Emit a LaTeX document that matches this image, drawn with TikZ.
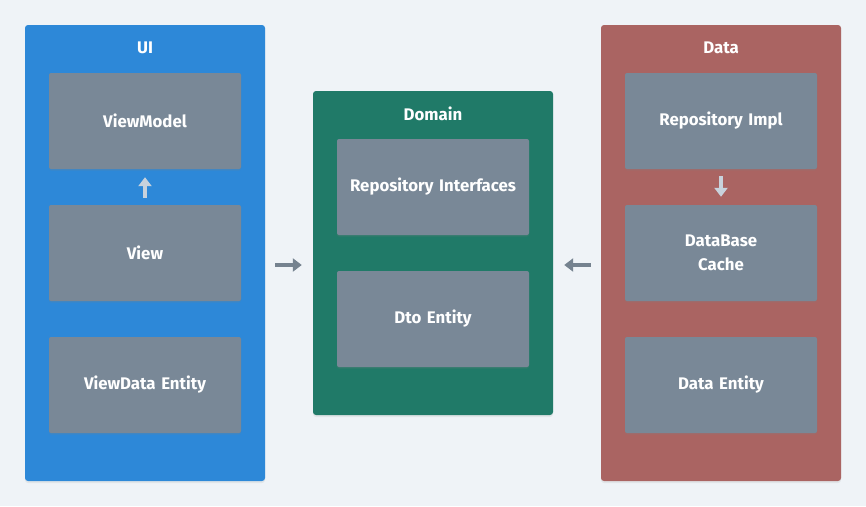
\documentclass[tikz,border=0pt]{standalone}
\usepackage{fontspec}
\setmainfont{Fira Sans}
\usetikzlibrary{positioning,arrows.meta,shadows}
\definecolor{pagebg}{RGB}{239,243,247}
\definecolor{uiblue}{RGB}{45,136,216}
\definecolor{domgreen}{RGB}{32,122,104}
\definecolor{datared}{RGB}{170,100,98}
\definecolor{cardgray}{RGB}{121,136,151}
\definecolor{linkgray}{RGB}{117,130,143}
\definecolor{steplight}{RGB}{200,210,220}
\tikzset{
  layer/.style = {rounded corners=3pt, minimum width=240pt, inner sep=0pt,
                  drop shadow={shadow xshift=0pt, shadow yshift=-2pt, opacity=0.12}},
  title/.style = {text=white, font=\fontsize{16.8}{20}\selectfont\bfseries},
  card/.style  = {rounded corners=2pt, fill=cardgray, minimum width=192pt, minimum height=96pt,
                  text width=180pt, align=center, text=white, inner sep=0pt,
                  font=\fontsize{16.8}{24}\selectfont\bfseries,
                  drop shadow={shadow xshift=0pt, shadow yshift=-1.5pt, opacity=0.18}},
  inner/.style = {-{Triangle[length=9pt, width=13pt]}, line width=4pt, draw=steplight,
                  shorten <=7pt, shorten >=8pt},
  link/.style  = {-{Triangle[length=9pt, width=13pt]}, line width=4pt, draw=linkgray,
                  shorten <=10pt, shorten >=11pt},
}

\begin{document}
\begin{tikzpicture}[x=1pt, y=-1pt]
  \fill[pagebg] (0,0) rectangle (866,506);
  \useasboundingbox (0,0) rectangle (866,506);
  % layers
  \node[layer, fill=uiblue, minimum height=456pt] (ui) at (145,253) {};
  \node[layer, fill=domgreen, minimum height=324pt] (dom) at (433,253) {};
  \node[layer, fill=datared, minimum height=456pt] (data) at (721,253) {};
  \node[title] (uit) at (145,48) {UI};
  \node[title] (domt) at (433,114) {Domain};
  \node[title] (datat) at (721,48) {Data};
  % UI
  \node[card] (vm) at (145,121) {ViewModel};
  \node[card] (view) at (145,253) {View};
  \node[card] (vde) at (145,385) {ViewData Entity};
  % Domain
  \node[card] (repo) at (433,187) {Repository Interfaces};
  \node[card] (dto) at (433,319) {Dto Entity};
  % Data
  \node[card] (impl) at (721,121) {Repository Impl};
  \node[card] (cache) at (721,253) {DataBase\\Cache};
  \node[card] (de) at (721,385) {Data Entity};
  % arrows
  \draw[inner] (view) -- (vm);
  \draw[inner] (impl) -- (cache);
  \draw[link] ([yshift=-12pt]ui.east) -- ([yshift=-12pt]dom.west);
  \draw[link] ([yshift=-12pt]data.west) -- ([yshift=-12pt]dom.east);
\end{tikzpicture}
\end{document}
